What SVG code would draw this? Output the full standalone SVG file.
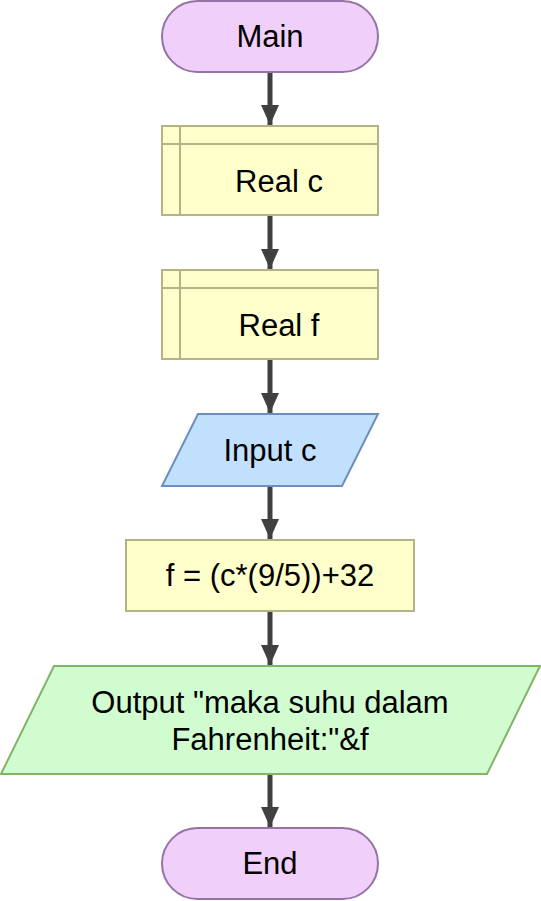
<svg xmlns="http://www.w3.org/2000/svg" width="541" height="901" viewBox="0 0 541 901">
<defs>
<style>
.term{fill:#f0d0fa;stroke:#9673a6;stroke-width:2}
.proc{fill:#ffffcc;stroke:#b3b383;stroke-width:2}
.inp{fill:#c0e0fd;stroke:#6c8ebf;stroke-width:2}
.out{fill:#d0fcd0;stroke:#82b366;stroke-width:2}
.line{stroke:#b3b383;stroke-width:2}
.lbl{font-family:"Liberation Sans",Arial,sans-serif;font-size:31px;fill:#000;text-anchor:middle}
.conn{stroke:#404040;stroke-width:5;fill:none}
</style>
<marker id="ah" viewBox="0 0 20 18" refX="20" refY="9" markerWidth="4" markerHeight="3.6" orient="auto" markerUnits="strokeWidth">
<path d="M0,0 L20,9 L0,18 Z" fill="#404040"/>
</marker>
</defs>
<g id="connectors">
<line class="conn" x1="270" y1="72" x2="270" y2="125" marker-end="url(#ah)"/>
<line class="conn" x1="270" y1="216" x2="270" y2="269" marker-end="url(#ah)"/>
<line class="conn" x1="270" y1="360" x2="270" y2="413" marker-end="url(#ah)"/>
<line class="conn" x1="270" y1="487" x2="270" y2="539" marker-end="url(#ah)"/>
<line class="conn" x1="270" y1="612" x2="270" y2="665" marker-end="url(#ah)"/>
<line class="conn" x1="270" y1="775" x2="270" y2="827" marker-end="url(#ah)"/>
</g>
<g id="main">
<rect class="term" x="162" y="1" width="216" height="71" rx="35.5"/>
<text class="lbl" x="270" y="47">Main</text>
</g>
<g id="realc">
<rect class="proc" x="162" y="126" width="216" height="89"/>
<line class="line" x1="180" y1="126" x2="180" y2="215"/>
<line class="line" x1="162" y1="144" x2="378" y2="144"/>
<text class="lbl" x="279" y="192">Real c</text>
</g>
<g id="realf">
<rect class="proc" x="162" y="270" width="216" height="89"/>
<line class="line" x1="180" y1="270" x2="180" y2="359"/>
<line class="line" x1="162" y1="288" x2="378" y2="288"/>
<text class="lbl" x="279" y="336">Real f</text>
</g>
<g id="inputc">
<polygon class="inp" points="198,414 378,414 342,486 162,486"/>
<text class="lbl" x="270" y="461">Input c</text>
</g>
<g id="assign">
<rect class="proc" x="126" y="540" width="288" height="71"/>
<text class="lbl" x="270" y="586">f = (c*(9/5))+32</text>
</g>
<g id="output">
<polygon class="out" points="54,666 540,666 487,774 1,774"/>
<text class="lbl" x="270" y="713">Output "maka suhu dalam</text>
<text class="lbl" x="270" y="750">Fahrenheit:"&amp;f</text>
</g>
<g id="end">
<rect class="term" x="162" y="828" width="216" height="71" rx="35.5"/>
<text class="lbl" x="270" y="874">End</text>
</g>
</svg>
